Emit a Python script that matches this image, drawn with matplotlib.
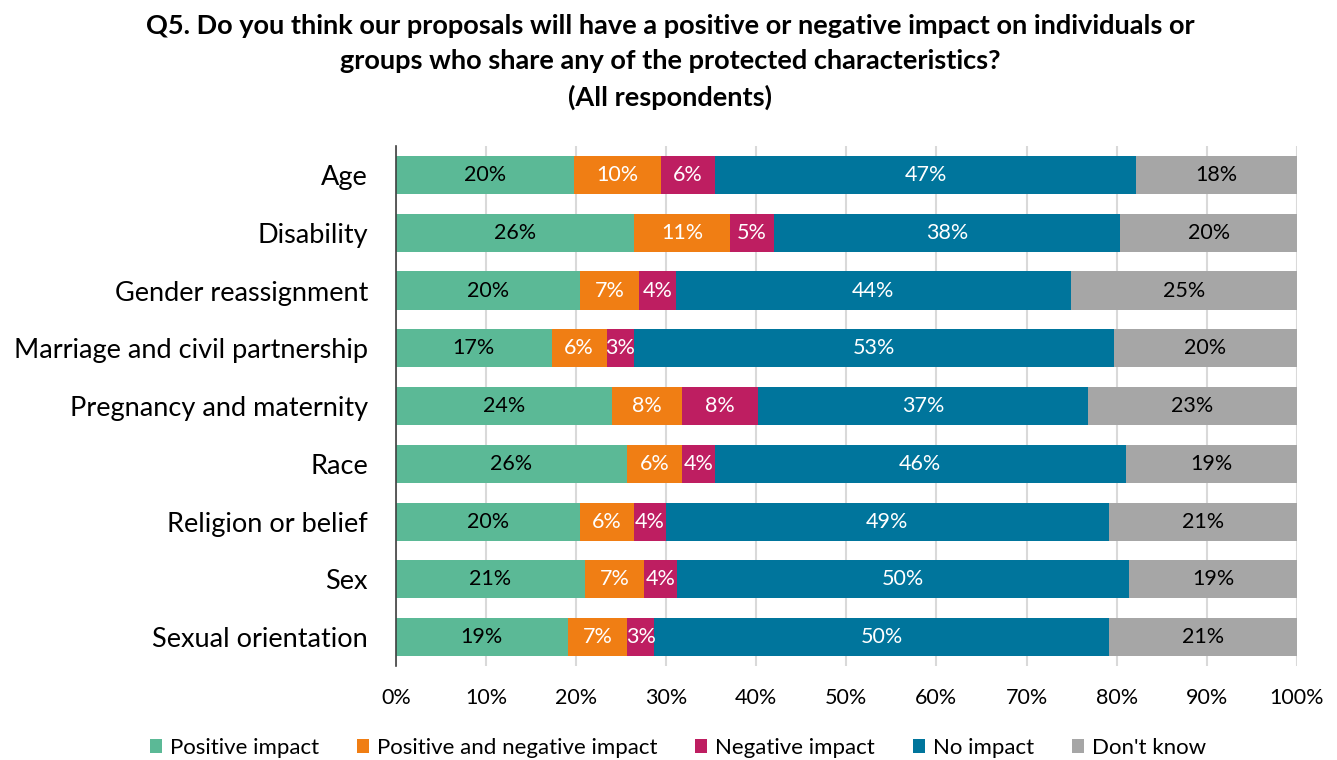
import matplotlib
matplotlib.use('Agg')
import matplotlib.pyplot as plt
from matplotlib.patches import Patch
import numpy as np

# ==============================================================================
# data (percent of respondents)
# ==============================================================================
CATEGORIES = ["Age", "Disability", "Gender reassignment", "Marriage and civil partnership",
              "Pregnancy and maternity", "Race", "Religion or belief", "Sex", "Sexual orientation"]
SERIES = ["Positive impact", "Positive and negative impact", "Negative impact", "No impact", "Don't know"]

positive = [19.8, 26.4, 20.4, 17.3, 24.0, 25.7, 20.4, 21.0, 19.1]
pos_and_neg = [9.6, 10.7, 6.6, 6.1, 7.8, 6.1, 6.0, 6.6, 6.6]
negative = [6.0, 4.9, 4.1, 3.0, 8.4, 3.6, 3.6, 3.6, 3.0]
no_impact = [46.8, 38.4, 43.8, 53.3, 36.6, 45.6, 49.1, 50.2, 50.4]
dont_know = [17.8, 19.6, 25.1, 20.3, 23.2, 19.0, 20.9, 18.6, 20.9]

X_TICKS = [0, 10, 20, 30, 40, 50, 60, 70, 80, 90, 100]

COLORS = ["#5BB996", "#F07E14", "#BE1E61", "#00759C", "#A6A6A6"]
TEXT_COLORS = ["black", "white", "white", "white", "black"]

FONT = "Lato"
plt.rcParams['font.family'] = [FONT, 'DejaVu Sans']

fig = plt.figure(figsize=(13.37, 7.6), dpi=100)
ax = fig.add_axes([0.296, 0.1237, 0.674, 0.684])

values = [positive, pos_and_neg, negative, no_impact, dont_know]
y = np.arange(len(CATEGORIES))
left = np.zeros(len(CATEGORIES))
for s, vals in enumerate(values):
    vals = np.array(vals)
    ax.barh(y, vals, left=left, height=0.66, color=COLORS[s], zorder=2)
    for i, v in enumerate(vals):
        ax.text(left[i] + v / 2, y[i], f"{round(v):.0f}%", ha='center', va='center',
                color=TEXT_COLORS[s], fontsize=15.5, zorder=3)
    left += vals

ax.set_ylim(len(CATEGORIES) - 0.5, -0.5)
ax.set_xlim(0, 100)
ax.set_yticks(y)
ax.set_yticklabels(CATEGORIES, fontsize=19.5)
ax.set_xticks(X_TICKS)
ax.set_xticklabels([f"{t}%" for t in X_TICKS], fontsize=15.5)
ax.tick_params(axis='y', length=0, pad=20)
ax.tick_params(axis='x', length=0, pad=16)
ax.xaxis.grid(True, color='#D9D9D9', lw=1.5, zorder=0)
ax.set_axisbelow(True)
for sp in ['top', 'right', 'bottom']:
    ax.spines[sp].set_visible(False)
ax.spines['left'].set_color('#404040')
ax.spines['left'].set_linewidth(1.2)

fig.text(0.501, 0.981,
         "Q5. Do you think our proposals will have a positive or negative impact on individuals or\n"
         "groups who share any of the protected characteristics?\n(All respondents)",
         ha='center', va='top', fontsize=19.5, fontweight='bold', linespacing=1.53)

handles = [Patch(facecolor=c, edgecolor='none') for c in COLORS]
fig.legend(handles, SERIES, loc='center', bbox_to_anchor=(0.507, 0.016), ncol=5, frameon=False,
           fontsize=16, handlelength=0.55, handleheight=0.55, handletextpad=0.35, columnspacing=1.7)

fig.savefig("out.png", dpi=100)
